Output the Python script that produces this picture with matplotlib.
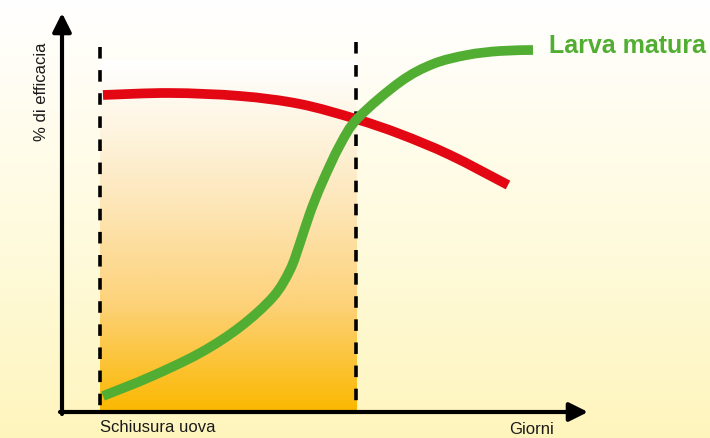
import numpy as np
import matplotlib.pyplot as plt
from matplotlib.colors import LinearSegmentedColormap
from matplotlib.path import Path
from matplotlib.patches import PathPatch

# curve values (pixel-like units, y down)
red_x = [103, 170, 240, 300, 356, 400, 450, 508]
red_y = [95, 93, 96, 104, 119, 134, 155, 185]

green_x = [103, 150, 200, 240, 273, 290, 300, 310, 322, 340, 358, 400, 433, 467, 500, 533]
green_y = [396, 377, 353, 327, 297, 270, 243, 213, 183, 145, 118, 82, 64, 55, 51, 50]

phase_start = 100
phase_end = 357
x_labels = ['Schiusura uova', 'Giorni']
y_label = '% di efficacia'
series_label = 'Larva matura'

fonts = ['Liberation Sans', 'DejaVu Sans']


def smooth_path(xs, ys):
    # catmull-rom through the points, drawn as cubic bezier segments
    p = np.column_stack([xs, ys]).astype(float)
    p = np.vstack([p[0], p, p[-1]])
    verts = [p[1]]
    codes = [Path.MOVETO]
    for i in range(1, len(p) - 2):
        c1 = p[i] + (p[i + 1] - p[i - 1]) / 6.0
        c2 = p[i + 1] - (p[i + 2] - p[i]) / 6.0
        verts += [c1, c2, p[i + 1]]
        codes += [Path.CURVE4] * 3
    return Path(verts, codes)


fig = plt.figure(figsize=(7.1, 4.38), dpi=100)
ax = fig.add_axes([0, 0, 1, 1])
ax.set_xlim(0, 710)
ax.set_ylim(438, 0)
ax.axis('off')

# background: white at top to pale yellow at bottom
bg = LinearSegmentedColormap.from_list('bg', ['#ffffff', '#fffbe0', '#fef5bd'])
grad = np.linspace(0, 1, 256).reshape(-1, 1)
ax.imshow(grad, cmap=bg, aspect='auto', extent=(0, 710, 438, 0), zorder=0)

# shaded period
sh = LinearSegmentedColormap.from_list('sh', ['#ffffff', '#fde9c0', '#fdd27a', '#fbb800'])
grad2 = np.linspace(0, 1, 256).reshape(-1, 1) ** 1.1
ax.imshow(grad2, cmap=sh, aspect='auto', extent=(phase_start, phase_end, 412, 60), zorder=1)

# dashed vertical lines
ax.plot([phase_start, phase_start], [47, 412], color='black', lw=2.6,
        dashes=(3.2, 3.2), zorder=2)
ax.plot([phase_end - 1, phase_end - 1], [42, 412], color='black', lw=2.6,
        dashes=(3.2, 3.2), zorder=2)

# curves
ax.add_patch(PathPatch(smooth_path(red_x, red_y), fill=False, edgecolor='#e30613',
                       lw=7, capstyle='butt', zorder=3))
ax.add_patch(PathPatch(smooth_path(green_x, green_y), fill=False, edgecolor='#52ae32',
                       lw=7, capstyle='butt', zorder=4))

# axes with arrows
ax.annotate('', xy=(62, 13), xytext=(62, 414),
            arrowprops=dict(arrowstyle='-|>', lw=3, color='black', mutation_scale=28,
                            shrinkA=0, shrinkB=0), zorder=5)
ax.annotate('', xy=(588, 412), xytext=(60, 412),
            arrowprops=dict(arrowstyle='-|>', lw=3, color='black', mutation_scale=28,
                            shrinkA=0, shrinkB=0), zorder=5)

ax.text(42, 92, y_label, rotation=90, ha='center', va='center', fontsize=12,
        family=fonts, color='#1a1a1a')
ax.text(158, 428, x_labels[0], ha='center', va='center', fontsize=12,
        family=fonts, color='#1a1a1a')
ax.text(532, 429, x_labels[1], ha='center', va='center', fontsize=12,
        family=fonts, color='#1a1a1a')
ax.text(549, 46, series_label, ha='left', va='center', fontsize=18,
        fontweight='bold', family=fonts, color='#52ae32')

fig.savefig('out.png', dpi=100)
